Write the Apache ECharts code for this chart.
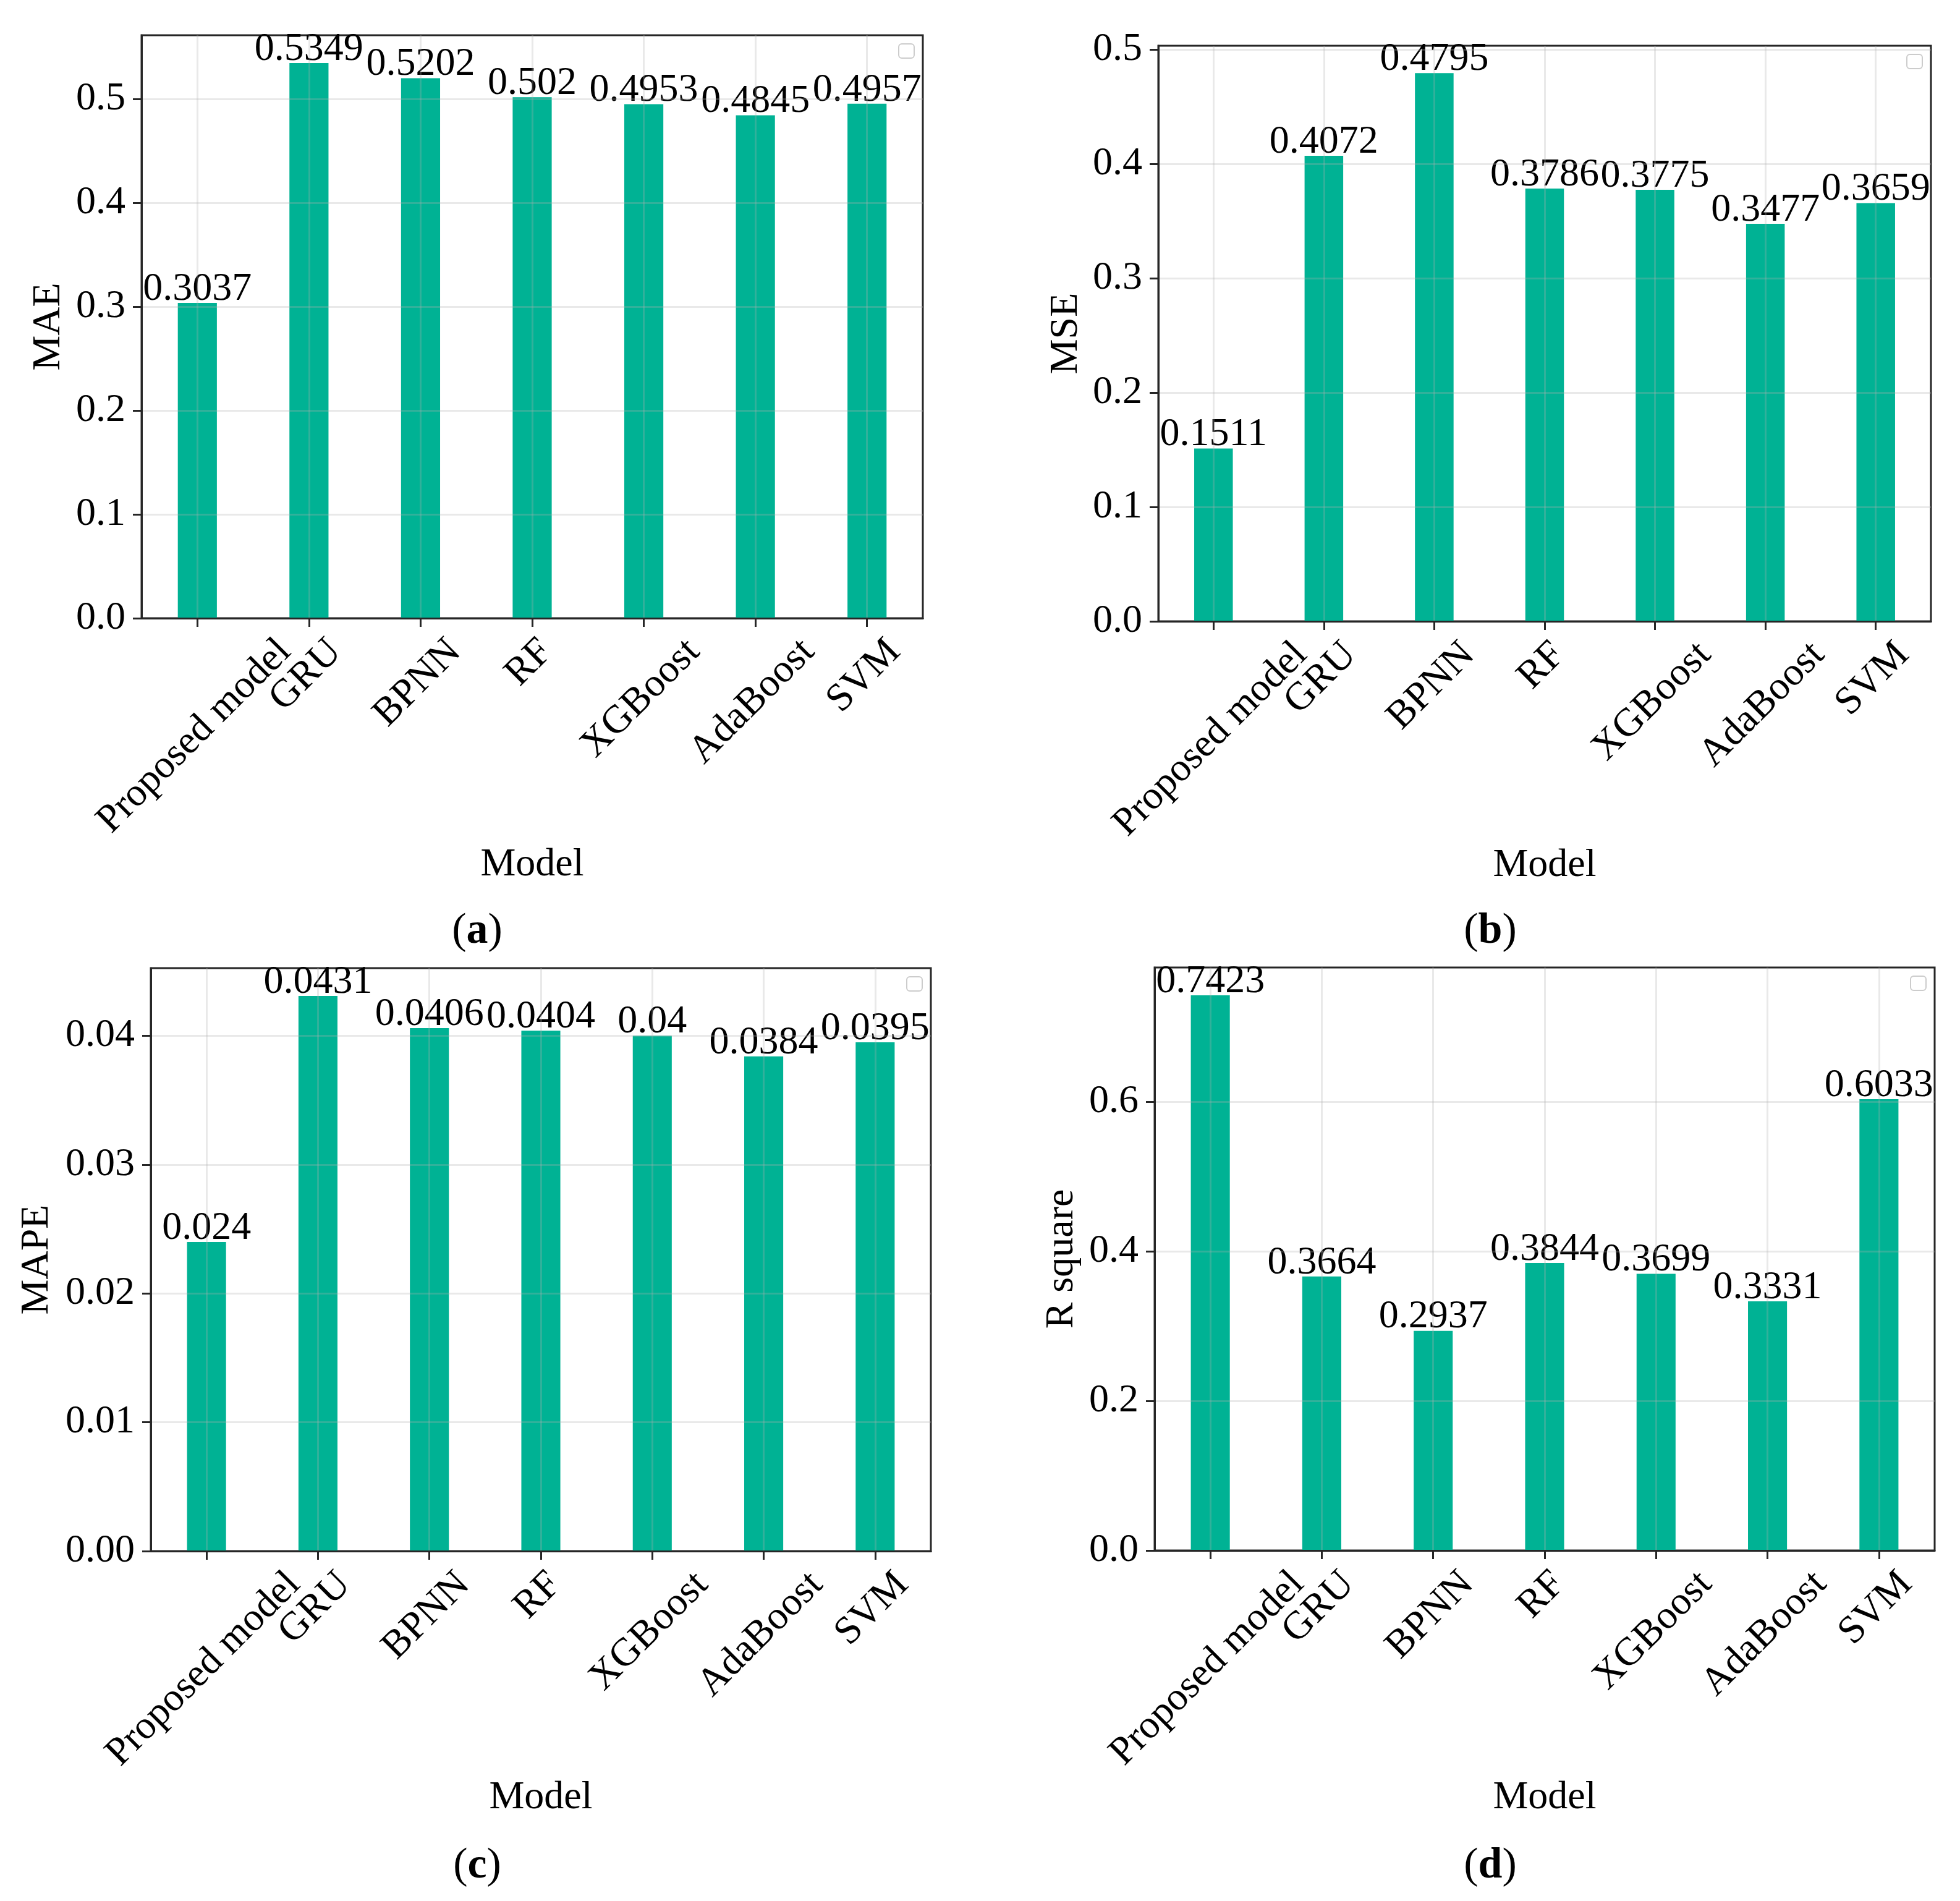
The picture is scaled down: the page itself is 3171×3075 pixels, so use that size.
<!DOCTYPE html>
<html>
<head>
<meta charset="utf-8">
<script src="https://cdn.jsdelivr.net/npm/echarts@6/dist/echarts.min.js"></script>
<style>
html,body{margin:0;padding:0;background:#ffffff;}
#chart{width:3171px;height:3075px;}
</style>
</head>
<body>
<div id="chart"></div>
<script>
// ---------------- data ----------------
const categories = ['Proposed model', 'GRU', 'BPNN', 'RF', 'XGBoost', 'AdaBoost', 'SVM'];
const maeValues  = [0.3037, 0.5349, 0.5202, 0.502, 0.4953, 0.4845, 0.4957];
const mseValues  = [0.1511, 0.4072, 0.4795, 0.3786, 0.3775, 0.3477, 0.3659];
const mapeValues = [0.024, 0.0431, 0.0406, 0.0404, 0.04, 0.0384, 0.0395];
const r2Values   = [0.7423, 0.3664, 0.2937, 0.3844, 0.3699, 0.3331, 0.6033];

const maeTicks  = [0, 0.1, 0.2, 0.3, 0.4, 0.5];
const mseTicks  = [0, 0.1, 0.2, 0.3, 0.4, 0.5];
const mapeTicks = [0, 0.01, 0.02, 0.03, 0.04];
const r2Ticks   = [0, 0.2, 0.4, 0.6];

const yNames = ['MAE', 'MSE', 'MAPE', 'R square'];
const xName = 'Model';
const panelLetters = ['a', 'b', 'c', 'd'];

// ---------------- style / layout ----------------
const FONT = '"Liberation Serif", "Times New Roman", Times, serif';
const FS = 64;
const BAR_COLOR = '#00B294';
const SPINE = '#262626';
const GRID_LINE = 'rgba(176,176,176,0.28)';

const panels = [
  { values: maeValues,  ticks: maeTicks,  dec: 1, grid: { left: 229,  top: 57,   width: 1264, height: 943 }, yGap: 118, xGap: 367, lx: 772,  ly: 1472 },
  { values: mseValues,  ticks: mseTicks,  dec: 1, grid: { left: 1874, top: 74,   width: 1250, height: 931 }, yGap: 117, xGap: 361, lx: 2411, ly: 1472 },
  { values: mapeValues, ticks: mapeTicks, dec: 2, grid: { left: 244,  top: 1566, width: 1262, height: 943 }, yGap: 152, xGap: 367, lx: 772,  ly: 2984 },
  { values: r2Values,   ticks: r2Ticks,   dec: 1, grid: { left: 1868, top: 1565, width: 1262, height: 943 }, yGap: 118, xGap: 368, lx: 2411, ly: 2984 }
];

// rotated category labels centred on the tick (matplotlib style)
const ctx = document.createElement('canvas').getContext('2d');
ctx.font = FS + 'px ' + FONT;
const rich = {};
categories.forEach((c, i) => {
  const w = ctx.measureText(c).width;
  const H = (w + 0.9 * FS) * Math.SQRT1_2;
  const D = 29 + H / 2;
  rich['l' + i] = {
    fontFamily: FONT, fontSize: FS, color: '#000',
    padding: [Math.max(0, Math.SQRT2 * D - 0.21 * FS), Math.SQRT2 * D, 0, 0]
  };
});

const grids = [], xAxes = [], yAxes = [], series = [], titles = [], graphics = [];

panels.forEach((p, k) => {
  grids.push(Object.assign({
    show: true, borderColor: SPINE, borderWidth: 3, backgroundColor: 'transparent',
    containLabel: false, outerBoundsMode: 'none'
  }, p.grid));

  xAxes.push({
    type: 'category', gridIndex: k, data: categories, z: 5,
    boundaryGap: true,
    name: xName, nameLocation: 'middle', nameGap: p.xGap,
    nameTextStyle: { fontFamily: FONT, fontSize: FS, color: '#000' },
    axisLine: { show: true, lineStyle: { color: SPINE, width: 3 } },
    axisTick: { show: true, alignWithLabel: true, length: 14, lineStyle: { color: SPINE, width: 3 } },
    axisLabel: {
      interval: 0, rotate: 45, margin: 0, align: 'center', verticalAlign: 'middle',
      fontFamily: FONT, fontSize: FS, color: '#000',
      formatter: (v, i) => '{l' + i + '|' + v + '}',
      rich: rich
    },
    splitLine: { show: true, alignWithLabel: true, lineStyle: { color: GRID_LINE, width: 3 } }
  });

  const maxV = Math.max.apply(null, p.values) * 1.05;
  yAxes.push({
    type: 'value', gridIndex: k, min: 0, max: maxV, interval: p.ticks[1] - p.ticks[0], z: 5,
    name: yNames[k], nameLocation: 'middle', nameGap: p.yGap,
    nameTextStyle: { fontFamily: FONT, fontSize: FS, color: '#000' },
    axisLine: { show: true, lineStyle: { color: SPINE, width: 3 } },
    axisTick: { show: true, length: 14, customValues: p.ticks, lineStyle: { color: SPINE, width: 3 } },
    axisLabel: {
      customValues: p.ticks, margin: 26,
      fontFamily: FONT, fontSize: FS, color: '#000',
      formatter: v => Number(v).toFixed(p.dec)
    },
    splitLine: { show: true, lineStyle: { color: GRID_LINE, width: 3 } }
  });

  series.push({
    type: 'bar', xAxisIndex: k, yAxisIndex: k, data: p.values,
    barWidth: '35%',
    itemStyle: { color: BAR_COLOR },
    label: {
      show: true, position: 'top', distance: -10,
      fontFamily: FONT, fontSize: FS, color: '#000',
      formatter: q => String(q.value)
    },
    emphasis: { disabled: true },
    animation: false
  });

  titles.push({
    text: '({b|' + panelLetters[k] + '})',
    left: p.lx, top: p.ly, textAlign: 'center', padding: 0,
    textStyle: {
      fontFamily: FONT, fontSize: 70, fontWeight: 'normal', color: '#000',
      rich: { b: { fontFamily: FONT, fontSize: 70, fontWeight: 'bold', color: '#000' } }
    }
  });

  // empty matplotlib legend box
  graphics.push({
    type: 'rect', z: 10,
    shape: { x: p.grid.left + p.grid.width - 39, y: p.grid.top + 14, width: 25, height: 23, r: 5 },
    style: { fill: '#ffffff', stroke: '#cccccc', lineWidth: 2 }
  });
});

const chart = echarts.init(document.getElementById('chart'), null, { renderer: 'canvas' });
chart.setOption({
  backgroundColor: '#ffffff',
  animation: false,
  textStyle: { fontFamily: FONT },
  title: titles,
  grid: grids,
  xAxis: xAxes,
  yAxis: yAxes,
  series: series,
  graphic: graphics
});
</script>
</body>
</html>
